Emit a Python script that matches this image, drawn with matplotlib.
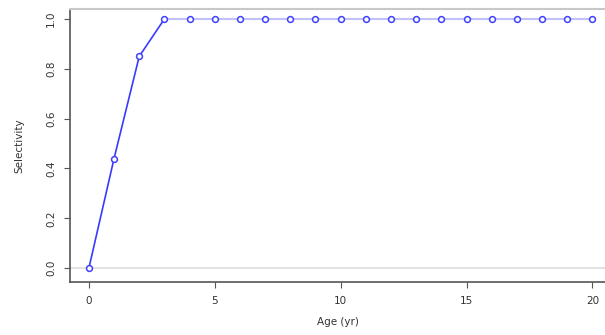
import matplotlib.pyplot as plt
import numpy as np

ages = np.arange(0, 21)
selectivity = [0.0, 0.44, 0.85] + [1.0] * 18
x_ticks = [0, 5, 10, 15, 20]
y_ticks = [0.0, 0.2, 0.4, 0.6, 0.8, 1.0]

fig = plt.figure(figsize=(6.05, 3.35), dpi=100)
ax = fig.add_axes([0.1157, 0.158, 0.8843, 0.815])

ax.axhline(0, color="#dddddd", lw=1.2, zorder=1)
# rising part drawn strong, plateau drawn faint
ax.plot(ages[:4], selectivity[:4], color="#3a3aff", lw=1.2, zorder=2)
ax.plot(ages[3:], selectivity[3:], color="#c0c0ff", lw=1.5, zorder=2)
ax.plot(ages, selectivity, lw=0, marker="o", ms=4.2,
        mfc="white", mec="#4040ff", mew=1.1, zorder=3)

ax.set_xlim(-0.75, 20.5)
ax.set_ylim(-0.056, 1.04)
ax.set_xticks(x_ticks)
ax.set_yticks(y_ticks)
ax.set_yticklabels([f"{v:.1f}" for v in y_ticks], rotation=90, va="center")

for side in ["top", "right"]:
    ax.spines[side].set_visible(False)
ax.spines["left"].set_color("#555555")
ax.spines["bottom"].set_color("#555555")
ax.spines["left"].set_linewidth(1.2)
ax.spines["bottom"].set_linewidth(1.2)
# faint frame line across the top
fig.add_artist(plt.Line2D([0.1157, 1.0], [0.973, 0.973], color="#c8c8c8", lw=1.5))

ax.tick_params(labelsize=7.5, length=4, color="#555555", labelcolor="#333333", pad=6)
ax.set_xlabel("Age (yr)", fontsize=7.5, color="#333333", labelpad=8)
ax.set_ylabel("Selectivity", fontsize=7.5, color="#333333", labelpad=16)

fig.savefig("out.png", dpi=100)
